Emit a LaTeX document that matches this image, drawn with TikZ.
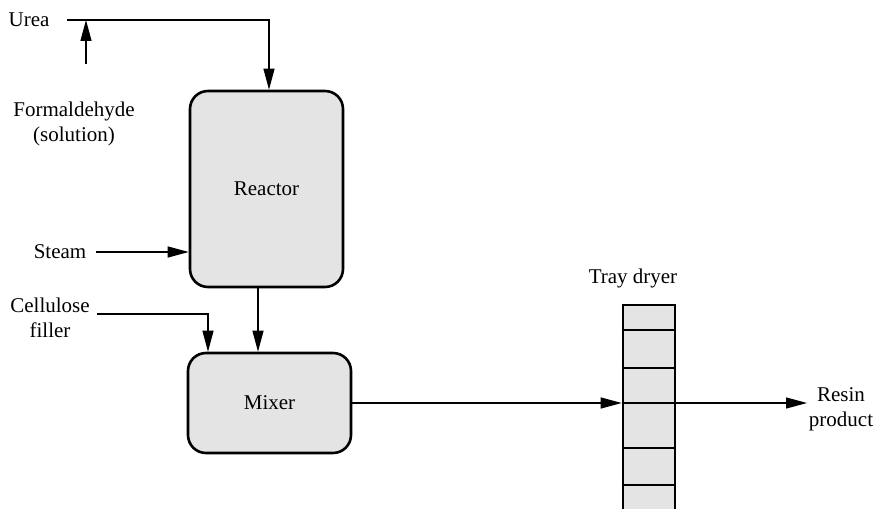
\documentclass[tikz,border=0pt]{standalone}
\usepackage{fontspec}
\setmainfont{Liberation Serif}
\usetikzlibrary{arrows.meta,positioning,calc}
\definecolor{unitfill}{RGB}{228,228,228}
\definecolor{ink}{RGB}{0,0,0}
\tikzset{
  >={Triangle[length=21pt,width=11pt]},
  unit/.style={draw=ink,fill=unitfill,rounded corners=18pt,line width=2.6pt,
    align=center,inner sep=0pt},
  tray/.style={draw=ink,fill=unitfill,line width=2.6pt,minimum width=52pt,inner sep=0pt},
  flow/.style={->,line width=1.2pt,draw=ink},
  tag/.style={align=center,inner sep=4pt},
}

\begin{document}
\begin{tikzpicture}[x=1pt,y=-1pt,font=\fontsize{21}{25}\selectfont]
  \clip (0,0) rectangle (874,508);
  % units
  \node[unit,minimum width=153pt,minimum height=196pt] (reactor) at (266.5,189) {Reactor};
  \node[unit,minimum width=163pt,minimum height=100pt] (mixer) at (269.5,403) {Mixer};
  \node[tray,minimum height=240pt] (dryer) at (649,425) {};
  \foreach \y in {330,368,403,448,485}
    \draw[line width=2.6pt] (dryer.west |- 0,\y) -- (dryer.east |- 0,\y);
  % labels
  \node[tag] (urea) at (29,20) {Urea};
  \node[tag] (formal) at (74,124) {Formaldehyde\\(solution)};
  \node[tag] (steam) at (60,252) {Steam};
  \node[tag] (cellulose) at (50,318) {Cellulose\\filler};
  \node[tag] (trayname) at (633,278) {Tray dryer};
  \node[tag] (resin) at (841,409) {Resin\\product};
  % streams
  \coordinate (formtail) at (86,64);
  \coordinate (cellstart) at (97,314);
  \draw[flow] ([xshift=13pt]urea.east) -| ([xshift=2.5pt]reactor.north);
  \draw[flow] (formtail) -- (formtail |- urea);
  \draw[flow] ([xshift=6pt]steam.east) -- (steam.east -| reactor.west);
  \draw[flow] (cellstart) -| (mixer.north -| 208,0);
  \draw[flow] (reactor.south -| 258,0) -- (mixer.north -| 258,0);
  \draw[flow] (mixer.east) -- (mixer.east -| dryer.west);
  \draw[flow] (mixer.east -| dryer.east) -- (mixer.east -| 807,0);
\end{tikzpicture}
\end{document}
